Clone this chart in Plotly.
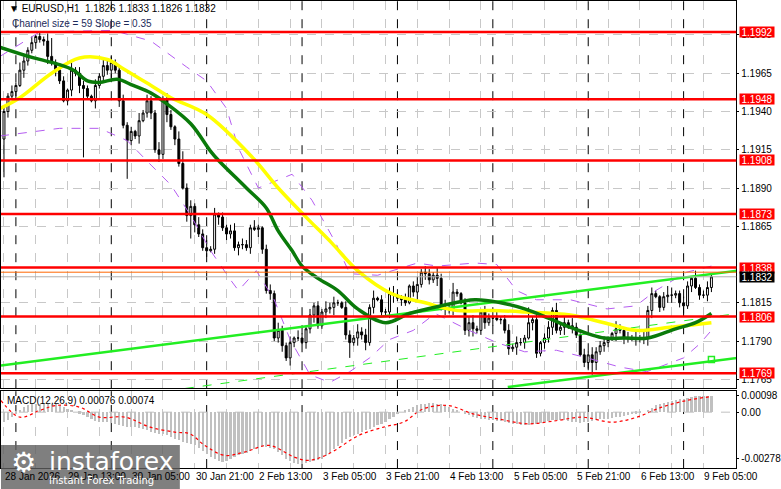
import plotly.graph_objects as go

# ---------------- data ----------------
closes = [
1.1940,1.1950,1.1953,1.1957,1.1967,1.1973,1.1980,1.1985,1.1989,1.1987,
1.1986,1.1976,1.1972,1.1967,1.1960,1.1947,1.1954,1.1967,1.1965,1.1957,
1.1955,1.1950,1.1947,1.1957,1.1963,1.1970,1.1967,1.1972,1.1967,1.1947,
1.1931,1.1921,1.1927,1.1924,1.1934,1.1939,1.1947,1.1939,1.1915,1.1912,
1.1948,1.1938,1.1930,1.1922,1.1906,1.1890,1.1872,1.1878,1.1866,1.1860,
1.1851,1.1849,1.1850,1.1873,1.1871,1.1864,1.1860,1.1862,1.1851,1.1853,
1.1853,1.1851,1.1864,1.1863,1.1864,1.1850,
1.1823,1.1821,1.1792,1.1797,1.1787,1.1779,1.1789,1.1792,1.1792,1.1789,
1.1798,1.1807,1.1813,1.1800,1.1809,1.1811,1.1812,1.1815,1.1815,1.1812,
1.1794,1.1789,1.1792,1.1796,1.1794,1.1789,1.1812,1.1818,1.1817,1.1809,
1.1809,1.1821,1.1820,1.1818,1.1817,1.1815,1.1826,1.1822,1.1827,1.1835,
1.1834,1.1830,1.1833,1.1831,1.1812,1.1812,1.1811,1.1822,1.1821,1.1815,
1.1797,1.1802,1.1798,1.1797,1.1809,1.1802,1.1805,1.1805,1.1804,1.1804,
1.1797,1.1785,1.1786,1.1789,1.1789,1.1792,1.1802,1.1804,1.1782,1.1789,
1.1792,1.1799,1.1810,1.1797,1.1799,1.1802,1.1800,1.1799,1.1794,1.1781,
1.1776,1.1781,1.1776,1.1783,1.1787,1.1789,1.1791,1.1795,1.1798,1.1797,
1.1792,1.1792,1.1792,1.1792,1.1792,1.1792,1.1810,1.1821,1.1819,1.1812,
1.1819,1.1820,1.1820,1.1821,1.1815,1.1813,1.1826,1.1831,1.1825,1.1820,
1.1820,1.1825,1.1832]
first_open = 1.1922
upper_wick_pips = ("3242532413" "2532431524" "3214253423" "4231524325" "2431523425"
                   "3524132452" "4325213425" "3241532423" "2534214325" "3425132452"
                   "2413524325" "3524213452" "2431523424" "3252413425" "2425314253"
                   "3421532425" "2534213452" "243152342")
lower_wick_pips = ("2423153242" "3524213425" "3215243524" "2432513425" "3524214352"
                   "2413524325" "3241532423" "4253214352" "2435213425" "3524132452"
                   "4213524325" "2534213452" "3425132425" "2415324352" "3524213425"
                   "2431524325" "3425132452" "352413243")
upper_override = {12: 12, 45: 8, 113: 6, 132: 10, 167: 6}
lower_override = {0: 25, 20: 45, 31: 25, 47: 15, 87: 10, 148: 8, 162: 5}

tick_labels = ["28 Jan 2026", "29 Jan 13:00", "30 Jan 05:00", "30 Jan 21:00", "2 Feb 13:00",
               "3 Feb 05:00", "3 Feb 21:00", "4 Feb 13:00", "5 Feb 05:00", "5 Feb 21:00",
               "6 Feb 13:00", "9 Feb 05:00"]

green_idx = [-1, 7.5, 13.5, 17.5, 21, 24, 28.5, 32.5, 37, 41, 47, 52, 54, 61, 66, 69, 72.5, 75,
             79, 84, 89, 96, 102, 110, 118.5, 125, 131, 137, 142.5, 151, 156, 162, 169, 174, 178]
green_val = [1.1982, 1.1975, 1.1971, 1.1967, 1.1960, 1.1959, 1.1961, 1.1957, 1.1952, 1.1945,
             1.1932, 1.1914, 1.1908, 1.1890, 1.1877, 1.1862, 1.1849, 1.1839, 1.1831, 1.1823,
             1.1811, 1.1802, 1.1808, 1.1813, 1.1817, 1.1815, 1.1811, 1.1805, 1.1799, 1.1792,
             1.1792, 1.1792, 1.1798, 1.1802, 1.1808]
yellow_idx = [-1, 4, 12, 19, 26, 30, 37, 42, 51, 62.5, 69, 76, 82.5, 89, 97.5, 106, 114, 122.5,
              131, 142.5, 151, 159, 167.5, 178]
yellow_val = [1.1942, 1.1949, 1.1965, 1.1975, 1.1974, 1.1968, 1.1957, 1.1949, 1.1938, 1.1910,
              1.1890, 1.1871, 1.1854, 1.1836, 1.1821, 1.1815, 1.1810, 1.1810, 1.1809, 1.1807,
              1.1802, 1.1797, 1.1799, 1.1802]
band_up_idx = [-1, 9, 27.5, 37, 46, 51, 56, 59, 64, 68.5, 72.5, 77.5, 83.5, 87, 94, 104, 109,
               118.5, 124, 129, 134, 142.5, 151.75, 159, 164, 171.75, 178]
band_up_val = [1.1976, 1.1992, 1.1993, 1.1986, 1.1969, 1.1960, 1.1942, 1.1916, 1.1890, 1.1895,
               1.1899, 1.1882, 1.1854, 1.1834, 1.1833, 1.1841, 1.1839, 1.1841, 1.1840, 1.1823,
               1.1817, 1.1817, 1.1811, 1.1813, 1.1823, 1.1835, 1.1839]
band_lo_idx = [-1, 14, 24, 31, 37, 42, 47, 52, 57, 59, 63.5, 68, 72, 77, 82, 87, 92, 97, 103,
               108.5, 117, 124, 131, 139, 146.75, 155, 161.75, 171, 175, 178]
band_lo_val = [1.1924, 1.1929, 1.1929, 1.1921, 1.1905, 1.1892, 1.1872, 1.1849, 1.1830, 1.1823,
               1.1836, 1.1817, 1.1791, 1.1768, 1.1763, 1.1770, 1.1779, 1.1791, 1.1797, 1.1808,
               1.1797, 1.1789, 1.1783, 1.1784, 1.1779, 1.1773, 1.1770, 1.1779, 1.1788, 1.1797]

chan_upper = ([-0.75, 184.5], [1.1774, 1.1836])
chan_mid = ([45.5, 184.5], [1.1759, 1.1808])
chan_lower = ([126.75, 184.5], [1.1760, 1.1779])
chan_marker = ([178], [1.1778])

levels = [1.1992, 1.1948, 1.1908, 1.1873, 1.1838, 1.1806, 1.1769]
orange_level = 1.1835
last_price = 1.1832
price_ticks = [1.1990, 1.1965, 1.1940, 1.1915, 1.1890, 1.1865, 1.1815, 1.1790, 1.1765]

macd_hist_e5 = [
-60,-50,-30,-10,10,30,40,45,50,50, 50,50,50,45,40,30,20,10,0,-10,
-20,-30,-45,-55,-60,-60,-60,-65,-70,-80, -85,-90,-90,-90,-95,-100,-110,-120,-125,-130,
-135,-140,-150,-160,-170,-180,-185,-190,-200,-215, -235,-255,-270,-285,-295,-300,-295,-285,-270,-260,
-255,-245,-235,-225,-215,-210,-210,-215,-225,-240, -260,-280,-295,-305,-310,-310,-305,-300,-295,-290,
-280,-265,-245,-225,-205,-185,-165,-150,-140,-130, -120,-110,-100,-90,-80,-70,-60,-45,-30,-15,
0,10,20,30,40,45,50,55,55,50, 45,40,30,20,10,0,-10,-20,-30,-35,
-40,-45,-50,-50,-55,-55,-60,-65,-70,-75, -80,-80,-80,-75,-70,-65,-60,-55,-50,-50,
-50,-50,-55,-60,-60,-65,-60,-60,-55,-50, -45,-40,-40,-35,-30,-30,-25,-20,-15,-10,
-5,0,10,25,40,50,55,60,65,70, 75,80,85,90,95,95,95,95,95]
sig_idx = [-0.75, 4, 9, 13, 19, 24, 30.5, 36.75, 43, 46.75, 50.5, 55.5, 60.5, 66.75, 73, 76.75,
           81.75, 89.25, 95.5, 100.5, 105.5, 111.75, 118, 124.25, 131.75, 139.25, 145.5, 153,
           159.25, 165.5, 171.75, 178]
sig_e5 = [70, -30, 10, 40, 30, -30, -30, -90, -120, -130, -200, -260, -240, -200, -270, -290,
          -250, -140, -90, -60, 20, 40, -10, -40, -70, -50, -30, -60, -30, 30, 70, 94]

# ---------------- derived ----------------
n = len(closes)
opens = [first_open] + closes[:-1]
ups = [int(c) for c in upper_wick_pips]
los = [int(c) for c in lower_wick_pips]
for k, v in upper_override.items():
    ups[k] = v
for k, v in lower_override.items():
    los[k] = v
highs = [max(o, c) + u * 0.0001 for o, c, u in zip(opens, closes, ups)]
lows = [min(o, c) - l * 0.0001 for o, c, l in zip(opens, closes, los)]
idx = list(range(n))

XD = 740 / 781
MAIN = [1 - 388 / 489, 1]
SUB = [1 - 468 / 489, 1 - 391 / 489]
FONT = "Liberation Sans"
FS = 10

fig = go.Figure()
fig.add_trace(go.Scatter(x=band_up_idx, y=band_up_val, mode="lines", line=dict(color="#b45cf0", width=1, dash="dash"), hoverinfo="skip"))
fig.add_trace(go.Scatter(x=band_lo_idx, y=band_lo_val, mode="lines", line=dict(color="#b45cf0", width=1, dash="dash"), hoverinfo="skip"))
fig.add_trace(go.Scatter(x=chan_mid[0], y=chan_mid[1], mode="lines", line=dict(color="#22ee22", width=1, dash="dash")))
fig.add_trace(go.Scatter(x=chan_upper[0], y=chan_upper[1], mode="lines", line=dict(color="#22ee22", width=2.5)))
fig.add_trace(go.Scatter(x=chan_lower[0], y=chan_lower[1], mode="lines", line=dict(color="#22ee22", width=2.5)))
fig.add_trace(go.Scatter(x=chan_marker[0], y=chan_marker[1], mode="markers",
                         marker=dict(symbol="square-open", size=6, color="#22ee22", line=dict(width=1.5))))
fig.add_trace(go.Scatter(x=yellow_idx, y=yellow_val, mode="lines", line=dict(color="#ffff00", width=3.5, shape="spline")))
fig.add_trace(go.Scatter(x=green_idx, y=green_val, mode="lines", line=dict(color="#0a7a0a", width=3.5, shape="spline")))
fig.add_trace(go.Candlestick(x=idx, open=opens, high=highs, low=lows, close=closes,
                             increasing=dict(line=dict(color="black", width=1), fillcolor="white"),
                             decreasing=dict(line=dict(color="black", width=1), fillcolor="black"),
                             whiskerwidth=0))
fig.add_trace(go.Bar(x=idx, y=[v * 1e-5 for v in macd_hist_e5], marker=dict(color="#c0c0c0", line=dict(width=0)),
                     width=0.55, xaxis="x2", yaxis="y2"))
fig.add_trace(go.Scatter(x=sig_idx, y=[v * 1e-5 for v in sig_e5], mode="lines",
                         line=dict(color="#ff0000", width=1.2, dash="dot", shape="spline"), xaxis="x2", yaxis="y2"))

xr = [-0.75, 184.25]
grid_vals = list(range(0, 185, 8))
common_x = dict(range=xr, domain=[0, XD], tickvals=grid_vals, showticklabels=False, showgrid=True,
                gridcolor="#c8c8c8", griddash="dash", gridwidth=1, zeroline=False,
                showline=True, linecolor="black", mirror=True, ticks="")
fig.update_layout(
    width=781, height=489, margin=dict(l=0, r=0, t=0, b=0),
    paper_bgcolor="white", plot_bgcolor="white", showlegend=False,
    xaxis=dict(**common_x, anchor="y", rangeslider=dict(visible=False)),
    xaxis2=dict(**common_x, anchor="y2"),
    yaxis=dict(domain=MAIN, range=[1.17592, 1.20122], side="right", tickvals=price_ticks,
               ticktext=[f"{v:.4f}" for v in price_ticks], tickfont=dict(family=FONT, size=FS, color="black"),
               showgrid=True, gridcolor="#c8c8c8", griddash="dash", zeroline=False, ticks="outside",
               ticklen=2, tickcolor="black", showline=True, linecolor="black", mirror=True, anchor="x"),
    yaxis2=dict(domain=SUB, range=[-0.00336, 0.00126], side="right", tickvals=[0.00098, 0, -0.00278],
                ticktext=["0.00098", "0.00", "-0.00278"], tickfont=dict(family=FONT, size=FS, color="black"),
                showgrid=False, zeroline=False, ticks="outside", ticklen=2, tickcolor="black",
                showline=True, linecolor="black", mirror=True, anchor="x2"),
    bargap=0,
)

shapes = []
shapes.append(dict(type="line", xref="x2", yref="y2", x0=xr[0], x1=xr[1], y0=0, y1=0,
                   line=dict(color="#c0c0c0", width=1, dash="dash")))
for d in range(3, 185, 24):
    for yr in (MAIN, SUB):
        shapes.append(dict(type="line", xref="x", yref="paper", x0=d, x1=d, y0=yr[0], y1=yr[1],
                           line=dict(color="black", width=1, dash="dash"), layer="below"))
shapes.append(dict(type="line", xref="paper", yref="y", x0=0, x1=XD, y0=last_price, y1=last_price,
                   line=dict(color="#b0b0b0", width=1)))
shapes.append(dict(type="line", xref="paper", yref="y", x0=0, x1=XD, y0=orange_level, y1=orange_level,
                   line=dict(color="#ff6600", width=1)))
for lv in levels:
    shapes.append(dict(type="line", xref="paper", yref="y", x0=0, x1=XD, y0=lv, y1=lv,
                       line=dict(color="#ff0000", width=2.5)))
shapes.append(dict(type="rect", xref="paper", yref="paper", x0=0, x1=180 / 781, y0=0, y1=1 - 445 / 489,
                   fillcolor="rgba(95,95,95,0.8)", line=dict(width=0)))
fig.update_layout(shapes=shapes)

ann = []
for lv in levels:
    ann.append(dict(xref="paper", yref="y", x=XD + 3 / 781, y=lv, xanchor="left", yanchor="middle",
                    text=f"{lv:.4f}", showarrow=False, bgcolor="#ff0000", width=34, height=10,
                    font=dict(family=FONT, size=FS, color="white"), borderpad=0))
ann.append(dict(xref="paper", yref="y", x=XD + 3 / 781, y=last_price, xanchor="left", yanchor="middle",
                text=f"{last_price:.4f}", showarrow=False, bgcolor="black", width=34, height=10,
                font=dict(family=FONT, size=FS, color="white"), borderpad=0))
for k, lab in enumerate(tick_labels):
    ann.append(dict(xref="x", yref="paper", x=16 * k - 0.3, y=1 - 476 / 489, xanchor="left", yanchor="middle",
                    text=lab, showarrow=False, font=dict(family=FONT, size=FS, color="black")))
ann.append(dict(xref="paper", yref="paper", x=6 / 781, y=1 - 8 / 489, xanchor="left", yanchor="middle",
                text="▼ EURUSD,H1  1.1826 1.1833 1.1826 1.1832", showarrow=False,
                font=dict(family=FONT, size=FS, color="black")))
ann.append(dict(xref="paper", yref="paper", x=9 / 781, y=1 - 23 / 489, xanchor="left", yanchor="middle",
                text="Channel size = 59 Slope = 0.35", showarrow=False,
                font=dict(family=FONT, size=FS, color="#1c2a5a")))
ann.append(dict(xref="paper", yref="paper", x=4 / 781, y=1 - 400 / 489, xanchor="left", yanchor="middle",
                text="MACD(12,26,9) 0.00076 0.00074", showarrow=False,
                font=dict(family=FONT, size=FS, color="black")))
ann.append(dict(xref="paper", yref="paper", x=8 / 781, y=1 - 462 / 489, xanchor="left", yanchor="middle",
                text="⚙", showarrow=False, font=dict(family="DejaVu Sans", size=28, color="white")))
ann.append(dict(xref="paper", yref="paper", x=46 / 781, y=1 - 461 / 489, xanchor="left", yanchor="middle",
                text="instaforex", showarrow=False, font=dict(family="DejaVu Sans", size=25, color="white")))
ann.append(dict(xref="paper", yref="paper", x=46 / 781, y=1 - 480 / 489, xanchor="left", yanchor="middle",
                text="Instant Forex Trading", showarrow=False, font=dict(family="DejaVu Sans", size=10, color="white")))
fig.update_layout(annotations=ann)

fig.write_html("out.html", config={"displayModeBar": False},
               post_script="document.body.style.margin='0';document.body.style.overflow='hidden';")
